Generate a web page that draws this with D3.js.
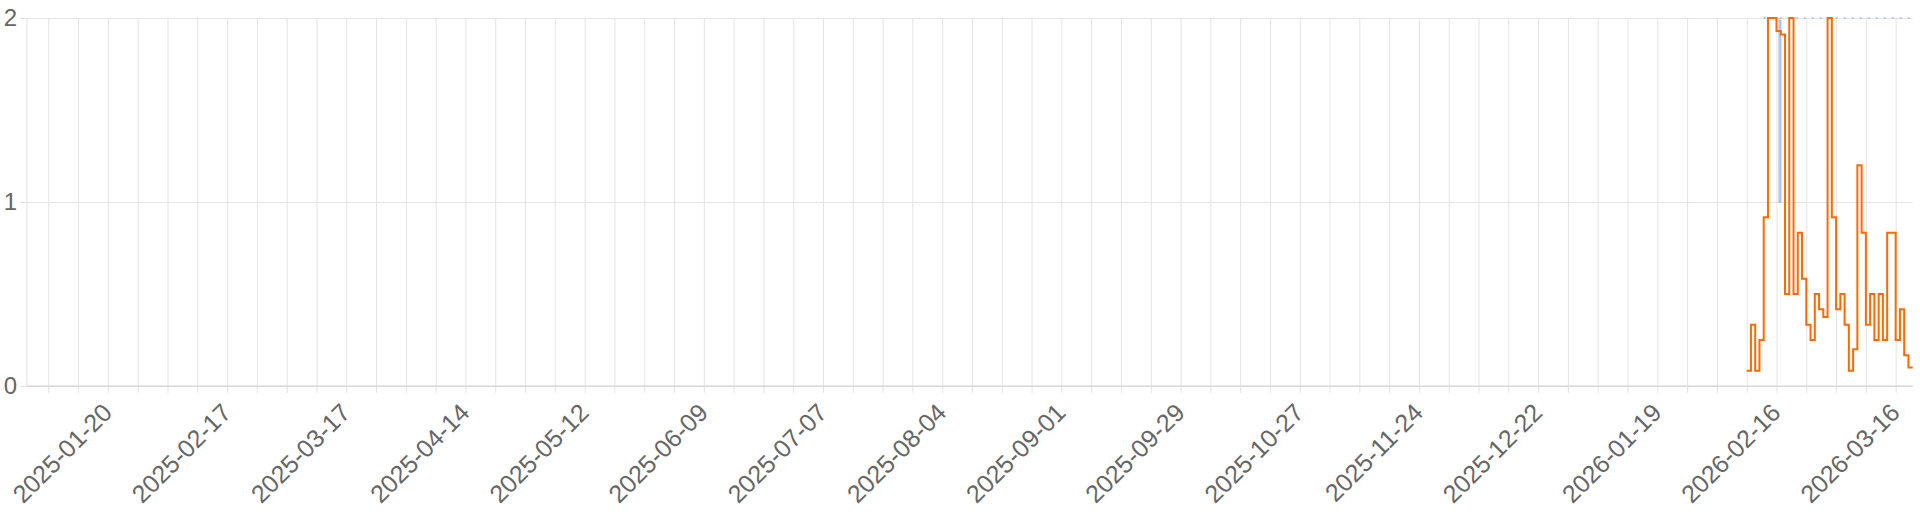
<!DOCTYPE html>
<html>
<head>
<meta charset="utf-8">
<script src="https://cdn.jsdelivr.net/npm/d3@7"></script>
<style>
  body { margin: 0; background: #fff; }
  svg { display: block; font-family: "Helvetica Neue", Helvetica, Arial, "Liberation Sans", sans-serif; }
</style>
</head>
<body>
<svg id="chart" width="1920" height="512"></svg>
<script>
// x range of the chart
var domainStart = "2025-01-01"
var domainEnd = "2026-03-20"

// daily values of the orange series, first day 2026-02-09 (last value is held to the end)
var orangeStart = "2026-02-09"
var orangeValues = [
  0.083, 0.333, 0.083, 0.25, 0.917, 2, 2, 1.93, 1.91, 0.5,
  2, 0.5, 0.833, 0.583, 0.333, 0.25, 0.5, 0.417, 0.375, 2,
  0.917, 0.417, 0.5, 0.333, 0.083, 0.2, 1.2, 0.833, 0.333, 0.5,
  0.25, 0.5, 0.25, 0.833, 0.833, 0.25, 0.417, 0.167, 0.1, 0.1
]

// light blue series (mostly at the top edge)
var blueDates = ["2026-02-13T00:00", "2026-02-16T15:00", "2026-02-17T00:00", "2026-03-20T00:00"]
var blueValues = [2, 1, 2, 2]

var yTicks = [0, 1, 2]
var xLabels = [
  "2025-01-20", "2025-02-17", "2025-03-17", "2025-04-14", "2025-05-12", "2025-06-09",
  "2025-07-07", "2025-08-04", "2025-09-01", "2025-09-29", "2025-10-27", "2025-11-24",
  "2025-12-22", "2026-01-19", "2026-02-16", "2026-03-16"
]

var parseDay = d3.utcParse("%Y-%m-%d")
var parseTime = d3.utcParse("%Y-%m-%dT%H:%M")
var fmt = d3.utcFormat("%Y-%m-%d")

var plotL = 27, plotR = 1912.7, plotT = 18, plotB = 386
var gridColor = "#e4e4e4"

var svg = d3.select("#chart")

var x = d3.scaleUtc()
  .domain([parseDay(domainStart), parseDay(domainEnd)])
  .range([plotL, plotR])

var y = d3.scaleLinear()
  .domain([0, 2])
  .range([plotB, plotT])

// horizontal grid + y labels
var yAxis = svg.append("g")
  .attr("transform", "translate(" + plotL + ",0)")
  .call(d3.axisLeft(y).tickValues(yTicks).tickFormat(d3.format("d")).tickSizeOuter(0)
    .tickSizeInner(-(plotR - plotL)).tickPadding(10))
yAxis.select(".domain").remove()
yAxis.selectAll("line").attr("x1", -7).attr("stroke", gridColor)
yAxis.selectAll("text")
  .attr("fill", "#666")
  .attr("font-size", 24)
  .attr("font-family", null)
  .attr("dy", "0.3em")

// weekly vertical grid
var weeks = d3.utcMonday.range(x.domain()[0], x.domain()[1])
var xGrid = svg.append("g")
  .attr("transform", "translate(0," + plotB + ")")
  .call(d3.axisBottom(x).tickValues(weeks).tickFormat("").tickSizeOuter(0)
    .tickSizeInner(-(plotB - plotT)))
xGrid.select(".domain").remove()
xGrid.selectAll("line").attr("y1", 7).attr("stroke", gridColor)

// left border and x axis line
svg.append("line")
  .attr("x1", plotL).attr("x2", plotL).attr("y1", plotT).attr("y2", plotB)
  .attr("stroke", gridColor)
svg.append("line")
  .attr("x1", plotL).attr("x2", plotR).attr("y1", plotB).attr("y2", plotB)
  .attr("stroke", "#cfcfcf")

// rotated x labels
var xLab = svg.append("g")
  .attr("transform", "translate(0," + plotB + ")")
  .call(d3.axisBottom(x).tickValues(xLabels.map(parseDay)).tickFormat(fmt).tickSize(0))
xLab.select(".domain").remove()
xLab.selectAll("text")
  .attr("fill", "#666")
  .attr("font-size", 25)
  .attr("font-family", null)
  .attr("text-anchor", "end")
  .attr("y", 0)
  .attr("dy", "0.35em")
  .attr("transform", "translate(-1,22) rotate(-45)")

// blue series
var blueData = blueDates.map(function(d, i) { return { t: parseTime(d), v: blueValues[i] } })
var blueLine = d3.line()
  .x(function(d) { return x(d.t) })
  .y(function(d) { return y(d.v) })
  .curve(d3.curveStepAfter)

var defs = svg.append("defs")
defs.append("clipPath").attr("id", "below")
  .append("rect").attr("x", plotL).attr("y", plotT + 2).attr("width", plotR - plotL).attr("height", plotB - plotT)
defs.append("clipPath").attr("id", "edge")
  .append("rect").attr("x", plotL).attr("y", plotT - 3).attr("width", plotR - plotL).attr("height", 5)

svg.append("path")
  .datum(blueData)
  .attr("d", blueLine)
  .attr("clip-path", "url(#below)")
  .attr("fill", "none")
  .attr("stroke", "#9dbcf0")
  .attr("stroke-width", 1.3)
svg.append("path")
  .datum(blueData)
  .attr("d", blueLine)
  .attr("clip-path", "url(#edge)")
  .attr("fill", "none")
  .attr("stroke", "#9dbcf0")
  .attr("stroke-width", 1.3)
  .attr("stroke-dasharray", "2,6")

// orange series
var t0 = parseDay(orangeStart)
var orangeData = orangeValues.map(function(v, i) { return { t: d3.utcDay.offset(t0, i), v: v } })
svg.append("path")
  .datum(orangeData)
  .attr("d", d3.line()
    .x(function(d) { return x(d.t) })
    .y(function(d) { return y(d.v) })
    .curve(d3.curveStepAfter))
  .attr("fill", "none")
  .attr("stroke", "#ff6a00")
  .attr("stroke-width", 2)
  .attr("stroke-linejoin", "miter")
</script>
</body>
</html>
